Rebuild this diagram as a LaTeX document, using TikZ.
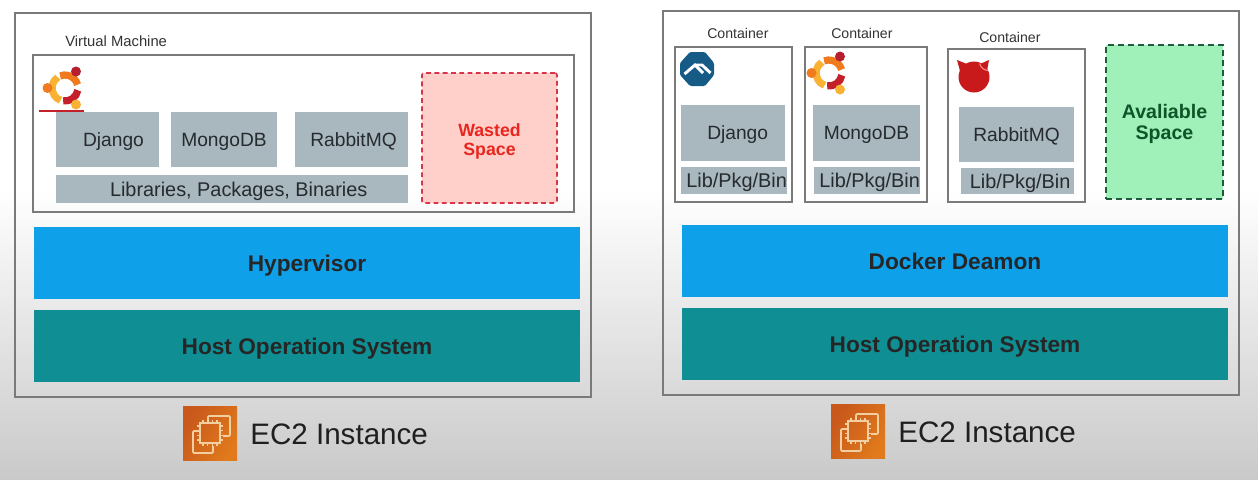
\documentclass[tikz,border=0pt]{standalone}
\usepackage{fontspec}
\setmainfont{Liberation Sans}
\definecolor{framegray}{HTML}{7A7A7A}
\definecolor{boxgray}{HTML}{A9B7BE}
\definecolor{inktext}{HTML}{252B2E}
\definecolor{hyperblue}{HTML}{0FA0EA}
\definecolor{hostteal}{HTML}{0F8F93}
\definecolor{wastefill}{HTML}{FFCFCA}
\definecolor{wasteline}{HTML}{D8344A}
\definecolor{wastetext}{HTML}{E8261E}
\definecolor{freefill}{HTML}{9FF0B9}
\definecolor{freeline}{HTML}{1E5A3C}
\definecolor{freetext}{HTML}{0E5528}
\definecolor{ubred}{HTML}{C4202A}
\definecolor{ubdark}{HTML}{B81F2E}
\definecolor{uborange}{HTML}{F07A1E}
\definecolor{ubyellow}{HTML}{F9B233}
\definecolor{alpineblue}{HTML}{165A86}
\definecolor{bsdred}{HTML}{C81A1A}
\definecolor{ecline}{HTML}{F2CFA0}
\definecolor{ecdark}{HTML}{C8581C}
\definecolor{eclight}{HTML}{E07A1C}
\tikzset{
  x=0.75pt,y=-0.75pt,
  frame/.style={draw=framegray,line width=1.5pt},
  innerframe/.style={draw=framegray,line width=1.3pt},
  graybox/.style={fill=boxgray,text=inktext,text height=10.4pt,text depth=0pt,font=\fontsize{14.4}{16}\selectfont},
  libbox/.style={fill=boxgray,text=inktext,text height=10.7pt,text depth=0pt,font=\fontsize{14.9}{16}\selectfont},
  hyperbox/.style={fill=hyperblue,text=black!85,text height=12.2pt,text depth=0pt,font=\fontsize{17}{20}\selectfont\bfseries},
  hostbox/.style={fill=hostteal,text=black!85,text height=12.2pt,text depth=0pt,font=\fontsize{17}{20}\selectfont\bfseries},
  wastebox/.style={fill=wastefill,draw=wasteline,line width=1.2pt,rounded corners=1.5pt,dash pattern=on 3.6pt off 2.6pt},
  wastelabel/.style={text=wastetext,align=center,inner sep=0pt,font=\fontsize{13.3}{14.3}\selectfont\bfseries},
  freebox/.style={fill=freefill,draw=freeline,line width=1.5pt,dash pattern=on 4.5pt off 3pt},
  freelabel/.style={text=freetext,align=center,inner sep=0pt,font=\fontsize{14.7}{15.75}\selectfont\bfseries},
  caption/.style={text=black!88,inner sep=0pt,font=\fontsize{22.2}{26}\selectfont},
  smalllabel/.style={text=black!80,inner sep=0pt,font=\fontsize{10.6}{12}\selectfont},
  vmlabelstyle/.style={text=black!80,inner sep=0pt,font=\fontsize{11.1}{13}\selectfont},
  ecsquare/.style={left color=ecdark,right color=eclight,shading angle=60,inner sep=0pt,outer sep=0pt,minimum size=40.5pt}
}
\newcommand{\bx}[7]{\node[#6,anchor=north west,inner sep=0pt,outer sep=0pt,
  minimum width={(#4-#2)*0.75pt},minimum height={(#5-#3)*0.75pt}] (#1) at (#2,#3) {#7};}
\newcommand{\ubuntulogo}[2]{%
  \begin{scope}[shift={(#1,#2)},x=0.75pt,y=0.75pt]
    \draw[uborange,line width=5.4pt] (15:13) arc[start angle=15,end angle=112,radius=13];
    \draw[ubyellow,line width=5.4pt] (124:13) arc[start angle=124,end angle=250,radius=13];
    \draw[ubred,line width=5.4pt] (262:13) arc[start angle=262,end angle=350,radius=13];
    \fill[ubdark] (11,16.5) circle[radius=5];
    \fill[uborange] (-17.5,0) circle[radius=5];
    \fill[ubyellow] (11,-16.5) circle[radius=5];
  \end{scope}}
\newcommand{\ecicon}[3]{%
  \node[ecsquare] (#1) at (#2,#3) {};
  \begin{scope}[shift={(#2,#3)}]
    \draw[ecline,line width=1.2pt,rounded corners=0.8pt] (-2,-11) -- (-2,-17) -- (20,-17) -- (20,3) -- (13,3);
    \draw[ecline,line width=1.2pt,rounded corners=0.8pt] (-11,-2) -- (-17,-2) -- (-17,20) -- (3,20) -- (3,13);
    \draw[ecline,line width=1.2pt] (-10,-10) rectangle (10,10);
    \foreach \t in {-7,-2.3,2.3,7}{
      \draw[ecline,line width=0.8pt] (\t,-13) -- (\t,-10) (\t,10) -- (\t,13) (-13,\t) -- (-10,\t) (10,\t) -- (13,\t);
    }
  \end{scope}}
\begin{document}
\begin{tikzpicture}
\useasboundingbox (0,0) rectangle (1258,479);
\fill[white] (0,0) rectangle (1258,190);
\shade[top color=white,bottom color=black!21,shading angle=0] (0,190) rectangle (1258,479);

% left instance
\bx{leftec}{15}{13}{591}{397}{frame}{}
\bx{vm}{33}{55}{574}{212}{innerframe}{}
\node[vmlabelstyle,anchor=west] (vmlabel) at (65,41.5) {Virtual Machine};
\ubuntulogo{65}{88}
\bx{ldjango}{56}{112}{159}{167}{graybox}{\hspace*{9pt}Django}
\bx{lmongo}{171}{112}{277}{167}{graybox}{MongoDB}
\bx{lrabbit}{295}{112}{408}{167}{graybox}{\hspace*{3pt}RabbitMQ}
\bx{llibs}{56}{175}{408}{203}{libbox}{\hspace*{10pt}Libraries, Packages, Binaries}
\coordinate (ulineA) at (38.5,111);
\coordinate (ulineB) at (84,111);
\draw[ubred,line width=1.3pt] (ulineA) -- (ulineB);
\bx{waste}{422}{73}{557}{203}{wastebox}{}
\node[wastelabel,yshift=-2.3pt] (wastetxt) at (waste.center) {Wasted\\Space};
\bx{lhyper}{34}{227}{580}{299}{hyperbox}{Hypervisor}
\bx{lhost}{34}{310}{580}{382}{hostbox}{Host Operation System}
\ecicon{licon}{210}{433}
\node[caption,anchor=west] (lcap) at (250,434) {EC2 Instance};

% right instance
\bx{rightec}{663}{11}{1239}{395}{frame}{}
\bx{c1}{675}{47}{792}{202}{innerframe}{}
\bx{c2}{805}{47}{927}{202}{innerframe}{}
\bx{c3}{948}{49}{1085}{202}{innerframe}{}
\node[smalllabel,anchor=west] (c1label) at (707,33.5) {Container};
\node[smalllabel,anchor=west] (c2label) at (831,33.5) {Container};
\node[smalllabel,anchor=west] (c3label) at (979,37.5) {Container};
% alpine logo
\fill[alpineblue,rounded corners=1pt] (690,52) -- (705,52) -- (714,63) -- (714,75) -- (705,86) -- (690,86) -- (680,75) -- (680,63) -- cycle;
\draw[white,line width=2.2pt,line join=miter] (684.5,74) -- (695,65) -- (703,73);
\draw[white,line width=2.2pt,line join=miter] (696,65) -- (702,65) -- (710.5,73);
\ubuntulogo{829}{73}
% freebsd logo
\fill[bsdred] (974,77) circle[radius=15.5];
\fill[bsdred] (957,60) -- (967,64) -- (960,71) -- cycle;
\fill[bsdred] (989,60) -- (980,64) -- (987,71) -- cycle;
\draw[white!55!red,line width=0.8pt] (979.5,63.5) .. controls (981,68) and (984,70) .. (988,70.5);
\bx{cdjango}{681}{105}{785}{161}{graybox}{\hspace*{7pt}Django}
\bx{clib1}{681}{167}{785}{194}{libbox}{\hspace*{4pt}Lib/Pkg/Bin}
\bx{cmongo}{813}{105}{920}{161}{graybox}{MongoDB}
\bx{clib2}{814}{167}{918}{194}{libbox}{\hspace*{4pt}Lib/Pkg/Bin}
\bx{crabbit}{959}{107}{1074}{162}{graybox}{RabbitMQ}
\bx{clib3}{961}{168}{1074}{194}{libbox}{\hspace*{4pt}Lib/Pkg/Bin}
\bx{avail}{1106}{45}{1223}{199}{freebox}{}
\node[freelabel,yshift=-1.3pt] (availtxt) at (avail.center) {Avaliable\\Space};
\bx{rhyper}{682}{225}{1228}{297}{hyperbox}{Docker Deamon}
\bx{rhost}{682}{308}{1228}{380}{hostbox}{Host Operation System}
\ecicon{ricon}{858}{431}
\node[caption,anchor=west] (rcap) at (898,432) {EC2 Instance};
\end{tikzpicture}
\end{document}
